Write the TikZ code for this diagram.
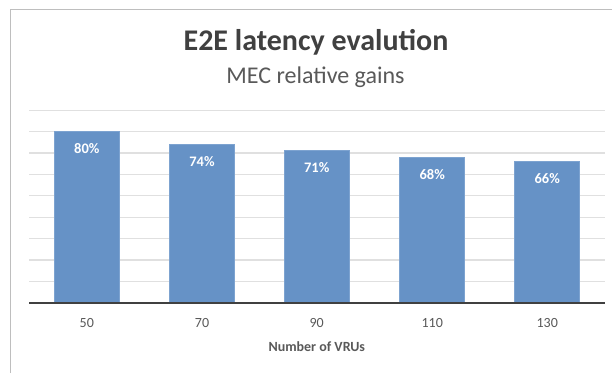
\documentclass[tikz,border=0pt]{standalone}
\usepackage{fontspec}
\setmainfont{Carlito}
\definecolor{barblue}{RGB}{102,146,198}
\definecolor{bardge}{RGB}{125,163,208}
\definecolor{gridgray}{RGB}{224,224,224}
\definecolor{axisdark}{RGB}{64,64,64}
\definecolor{framegray}{RGB}{190,190,190}
\definecolor{titlegray}{RGB}{64,64,64}
\definecolor{textgray}{RGB}{89,89,89}
\begin{document}
\begin{tikzpicture}[x=1pt,y=-1pt,
  framestyle/.style={draw=framegray, line width=1pt},
  gridline/.style={draw=gridgray, line width=1.2pt},
  axisline/.style={draw=axisdark, line width=1.6pt},
  bar/.style={fill=barblue, draw=bardge, line width=0.6pt, minimum width=65pt, inner sep=0pt, anchor=south},
  vallabel/.style={text=white, font=\fontsize{14.5}{17}\selectfont\bfseries, anchor=center, inner sep=0pt},
  ticklabel/.style={text=textgray, font=\fontsize{14}{16}\selectfont, anchor=center, inner sep=0pt},
  axistitle/.style={text=textgray, font=\fontsize{14}{16}\selectfont\bfseries, anchor=center, inner sep=0pt},
  charttitle/.style={text=titlegray, font=\fontsize{30}{36}\selectfont\bfseries, anchor=center, inner sep=0pt},
  chartsub/.style={text=textgray, font=\fontsize{24}{28}\selectfont, anchor=center, inner sep=0pt}
]
\useasboundingbox (0,0) rectangle (612,373);
\fill[white] (0,0) rectangle (612,373);
\draw[framestyle] (10,373) -- (10,9.3) -- (612,9.3);
\foreach \i in {1,...,9} \draw[gridline] (29,{302.7-21.4*\i}) -- (605,{302.7-21.4*\i});
\node[charttitle] (title) at (316,42) {E2E latency evalution};
\node[chartsub] (sub) at (315.5,77) {MEC relative gains};
\foreach \n/\cx/\v/\t in {1/86.8/80/50, 2/202/74/70, 3/316.7/71/90, 4/432.2/68/110, 5/547.2/66/130} {
  \node[bar, minimum height={\v*2.1375pt}] (b\n) at (\cx,302.7) {};
  \node[vallabel] (v\n) at ([yshift=-17.5pt]b\n.north) {\v\%};
  \node[ticklabel] (t\n) at (\cx,323.3) {\t};
}
\draw[axisline] (29,302.7) -- (605,302.7);
\node[axistitle] (xt) at (316.8,347) {Number of VRUs};
\end{tikzpicture}
\end{document}
